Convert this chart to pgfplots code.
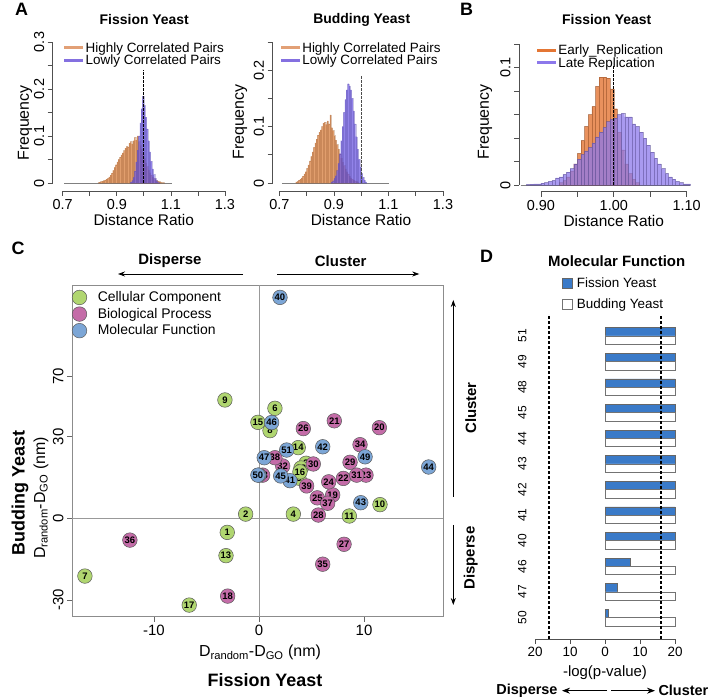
\documentclass[border=0pt]{standalone}
\usepackage{pgfplots}
\pgfplotsset{compat=1.18}
\usepackage{fontspec}
\setmainfont{Liberation Sans}
\usetikzlibrary{arrows.meta}
\newcommand\fs[1]{\fontsize{#1}{#1}\selectfont}
\definecolor{orA}{RGB}{215,125,60}
\definecolor{puA}{RGB}{110,90,225}
\definecolor{orL}{RGB}{226,160,118}
\definecolor{puL}{RGB}{132,112,224}
\definecolor{orB}{RGB}{228,118,52}
\definecolor{puB}{RGB}{140,120,235}
\definecolor{gC}{RGB}{176,214,112}
\definecolor{pC}{RGB}{196,108,168}
\definecolor{bC}{RGB}{124,166,214}
\definecolor{bD}{RGB}{58,122,200}
\definecolor{axg}{RGB}{80,80,80}

\pgfplotsset{
 rst/.style={scale only axis, anchor=south west, clip=false,
   axis x line*=bottom, axis y line*=left,
   axis line style={axg, line width=0.7bp},
   tick style={axg, line width=0.7bp},
   tick align=outside, major tick length=5bp,
   tick label style={font=\fs{14.5}},
   yticklabel style={rotate=90, anchor=south},
   legend style={draw=none, fill=none, font=\fs{13.5}, anchor=north west, inner sep=0pt, row sep=0bp, nodes={inner sep=0.8bp}},
   legend cell align=left,
   legend image code/.code={\draw[##1] (0bp,0bp) -- (19bp,0bp);},
 },
 hist/.style={ybar interval, fill=#1, fill opacity=0.75, draw=#1!70!black, draw opacity=0.3, line width=0.3bp, forget plot},
 histB/.style={ybar interval, fill=#1, fill opacity=0.8, draw=#1!60!black, draw opacity=0.5, line width=0.4bp, forget plot},
}

\begin{document}
\begin{tikzpicture}
\path[use as bounding box] (0,0) rectangle (710bp,700bp);

% ---------------- A left: fission
\begin{axis}[rst, at={(62.7bp,517bp)}, width=162.3bp, height=141bp,
 xmin=0.7, xmax=1.3, ymin=0, ymax=0.3,
 axis x line shift=8bp, axis y line shift=10bp,
 xtick={0.7,0.8,0.9,1.0,1.1,1.2,1.3}, xticklabels={0.7,,0.9,,1.1,,1.3},
 ytick={0,0.05,0.1,0.15,0.2,0.25,0.3}, yticklabels={0,,0.1,,0.2,,0.3},
 legend style={at={(0.0,1.005)}},
]
\addlegendimage{orL, line width=3bp}\addlegendentry{Highly Correlated Pairs}
\addlegendimage{puL, line width=3bp}\addlegendentry{Lowly Correlated Pairs}
\addplot[gray, line width=0.6bp, forget plot] coordinates {(0.705,0) (1.103,0)};
\addplot[hist=orA] table {
x y
0.830 0.001
0.835 0.002
0.840 0.003
0.845 0.004
0.850 0.005
0.855 0.006
0.860 0.008
0.865 0.010
0.870 0.013
0.875 0.017
0.880 0.021
0.885 0.027
0.890 0.033
0.895 0.039
0.900 0.045
0.905 0.050
0.910 0.055
0.915 0.060
0.920 0.064
0.925 0.069
0.930 0.074
0.935 0.078
0.940 0.077
0.945 0.085
0.950 0.088
0.955 0.083
0.960 0.090
0.965 0.097
0.970 0.091
0.975 0.100
0.980 0.088
0.985 0.080
0.990 0.072
0.995 0.062
1.000 0.052
1.005 0.043
1.010 0.035
1.015 0.028
1.020 0.022
1.025 0.017
1.030 0.013
1.035 0.010
1.040 0.007
1.045 0.005
1.050 0.004
1.055 0.003
1.060 0.002
1.065 0.001
1.070 0.001
1.075 0
};
\addplot[hist=puA] table {
x y
0.950 0.002
0.955 0.005
0.960 0.012
0.965 0.025
0.970 0.045
0.975 0.070
0.980 0.100
0.985 0.128
0.990 0.158
0.995 0.185
1.000 0.165
1.005 0.140
1.010 0.115
1.015 0.090
1.020 0.066
1.025 0.046
1.030 0.030
1.035 0.018
1.040 0.010
1.045 0.005
1.050 0.002
1.055 0
};
\addplot[black, line width=1bp, dash pattern=on 2.5bp off 1.5bp, forget plot] coordinates {(1,0) (1,0.24)};
\end{axis}

% ---------------- A right: budding
\begin{axis}[rst, at={(279.3bp,517bp)}, width=163.7bp, height=141bp,
 xmin=0.7, xmax=1.3, ymin=0, ymax=0.25,
 axis x line shift=8bp, axis y line shift=6.7bp,
 xtick={0.7,0.8,0.9,1.0,1.1,1.2,1.3}, xticklabels={0.7,,0.9,,1.1,,1.3},
 ytick={0,0.05,0.1,0.15,0.2,0.25}, yticklabels={0,,0.1,,0.2,},
 legend style={at={(0.0,1.005)}},
]
\addlegendimage{orL, line width=3bp}\addlegendentry{Highly Correlated Pairs}
\addlegendimage{puL, line width=3bp}\addlegendentry{Lowly Correlated Pairs}
\addplot[gray, line width=0.6bp, forget plot] coordinates {(0.709,0) (1.102,0)};
\addplot[hist=orA] table {
x y
0.760 0.002
0.765 0.003
0.770 0.005
0.775 0.007
0.780 0.009
0.785 0.012
0.790 0.016
0.795 0.020
0.800 0.026
0.805 0.032
0.810 0.039
0.815 0.047
0.820 0.055
0.825 0.063
0.830 0.071
0.835 0.078
0.840 0.085
0.845 0.090
0.850 0.094
0.855 0.100
0.860 0.106
0.865 0.108
0.870 0.104
0.875 0.110
0.880 0.105
0.885 0.121
0.890 0.098
0.895 0.093
0.900 0.084
0.905 0.076
0.910 0.068
0.915 0.060
0.920 0.052
0.925 0.044
0.930 0.037
0.935 0.031
0.940 0.025
0.945 0.020
0.950 0.016
0.955 0.012
0.960 0.009
0.965 0.007
0.970 0.005
0.975 0.004
0.980 0.003
0.985 0.002
0.990 0
};
\addplot[hist=puA] table {
x y
0.890 0.002
0.895 0.004
0.900 0.008
0.905 0.013
0.910 0.022
0.915 0.035
0.920 0.052
0.925 0.075
0.930 0.100
0.935 0.125
0.940 0.148
0.945 0.165
0.950 0.176
0.955 0.172
0.960 0.165
0.965 0.150
0.970 0.128
0.975 0.105
0.980 0.082
0.985 0.060
0.990 0.042
0.995 0.028
1.000 0.017
1.005 0.010
1.010 0.005
1.015 0.002
1.020 0
};
\addplot[black!70, line width=1bp, dash pattern=on 2.5bp off 1.5bp, forget plot] coordinates {(1,0) (1,0.19)};
\end{axis}

% ---------------- B
\begin{axis}[rst, at={(519.1bp,515bp)}, width=174.8bp, height=140.8bp,
 xmin=0.87, xmax=1.11, ymin=0, ymax=0.12,
 axis x line shift=6.7bp, x axis line style={draw=none},
 xtick={0.9,0.95,1.0,1.05,1.1}, xticklabels={0.90,,1.00,,1.10},
 ytick={0,0.02,0.04,0.06,0.08,0.1,0.12}, yticklabels={0,,,,,0.1,},
 legend style={at={(0.093,1.005)}},
]
\addlegendimage{orB, line width=3bp}\addlegendentry{Early\_Replication}
\addlegendimage{puB, line width=3bp}\addlegendentry{Late Replication}
\draw[axg, line width=0.7bp] ([yshift=-6.7bp]axis cs:0.9,0) -- ([yshift=-6.7bp]axis cs:1.1,0);
\addplot[gray, line width=0.6bp, forget plot] coordinates {(0.872,0) (1.105,0)};
\addplot[histB=orB] table {
x y
0.925 0.002
0.930 0.004
0.935 0.007
0.940 0.012
0.945 0.018
0.950 0.027
0.955 0.038
0.960 0.050
0.965 0.060
0.970 0.067
0.975 0.084
0.980 0.092
0.985 0.092
0.990 0.091
0.995 0.082
1.000 0.065
1.005 0.045
1.010 0.030
1.015 0.018
1.020 0.010
1.025 0.005
1.030 0.002
1.035 0
};
\addplot[histB=puB, fill opacity=0.75] table {
x y
0.880 0.0005
0.885 0.0008
0.890 0.001
0.895 0.001
0.900 0.0015
0.905 0.002
0.910 0.003
0.915 0.004
0.920 0.006
0.925 0.007
0.930 0.009
0.935 0.011
0.940 0.014
0.945 0.018
0.950 0.022
0.955 0.026
0.960 0.029
0.965 0.032
0.970 0.036
0.975 0.041
0.980 0.045
0.985 0.049
0.990 0.054
0.995 0.056
1.000 0.057
1.005 0.060
1.010 0.061
1.015 0.058
1.020 0.058
1.025 0.052
1.030 0.050
1.035 0.045
1.040 0.040
1.045 0.034
1.050 0.028
1.055 0.023
1.060 0.018
1.065 0.014
1.070 0.010
1.075 0.007
1.080 0.005
1.085 0.003
1.090 0.002
1.095 0.001
1.100 0.001
1.105 0
};
\addplot[black, line width=1bp, dash pattern=on 2.5bp off 1.5bp, forget plot] coordinates {(1,0) (1,0.102)};
\end{axis}

% ---------------- C
\begin{axis}[scale only axis, anchor=south west, at={(72bp,83.3bp)}, width=371bp, height=331.7bp,
 xmin=-17.8, xmax=17.52, ymin=-39.2, ymax=187.8,
 y coord trafo/.code={\pgfmathparse{(1-2*(#1<0))*ln(1+abs(#1)/30)}},
 axis line style={black!45, line width=0.8bp},
 tick style={black!60, line width=0.7bp}, tick align=outside, major tick length=5bp, tick pos=left,
 xtick={-10,0,10}, xticklabels={-10,0,10}, ytick={-30,0,30,70}, yticklabels={-30,0,30,70},
 tick label style={font=\fs{15}}, yticklabel style={rotate=90, anchor=south},
 clip=false,
 legend style={draw=none, fill=none, font=\fs{14}, at={(0.0,0.985)}, anchor=north west, inner sep=0pt, row sep=2bp, nodes={inner sep=1bp}},
 legend cell align=left,
 legend image code/.code={\draw[#1] plot coordinates {(9.5bp,0bp)};},
 nodes near coords, point meta=explicit symbolic, nodes near coords align=center,
 every node near coord/.append style={font=\fs{9.5}\bfseries, inner sep=0pt, text=black},
]
\addplot[black!40, line width=0.8bp, forget plot] coordinates {(0,-39.2) (0,187.8)};
\addplot[black!40, line width=0.8bp, forget plot] coordinates {(-17.8,0) (17.52,0)};
\addplot[only marks, mark=*, mark size=7.3bp, mark options={fill=gC, draw=black!65, line width=0.5bp}] table[x=x, y=y, meta=l] {
l x y
1 -3.02 -3.8
2 -1.27 1.1
3 4.48 17.9
4 3.27 1.1
5 3.8 12.2
6 1.52 46.4
7 -16.57 -19.0
8 1.05 33.2
9 -3.24 52.0
10 11.52 3.7
11 8.6 0.6
12 4.0 16.0
13 -3.14 -11.2
14 3.74 24.7
15 -0.1 37.8
16 3.9 14.5
17 -6.64 -32.7
};
\addlegendentry{\hspace*{10bp}Cellular Component}
\addplot[only marks, mark=*, mark size=7.3bp, mark options={fill=pC, draw=black!65, line width=0.5bp}] table[x=x, y=y, meta=l] {
l x y
18 -2.98 -28.1
19 7.02 6.6
20 11.46 34.8
21 7.17 38.7
22 8.03 12.1
23 10.19 13.3
24 6.64 10.9
25 5.55 5.7
26 4.22 34.3
27 8.1 -7.4
28 5.65 0.85
29 8.67 18.3
30 5.17 17.6
31 9.3 13.3
32 2.26 16.8
33 0.35 13.3
34 9.62 26.1
35 6.07 -14.3
36 -12.29 -6.1
37 6.54 4.1
38 1.52 20.2
39 4.54 9.5
};
\addlegendentry{\hspace*{10bp}Biological Process}
\addplot[only marks, mark=*, mark size=7.3bp, mark options={fill=bC, draw=black!65, line width=0.5bp}] table[x=x, y=y, meta=l] {
l x y
40 2.0 166
41 2.95 11.3
42 6.07 25.1
43 9.69 4.25
44 16.16 16.4
45 2.07 13.0
46 1.21 37.7
47 0.5 20.2
48 0.0 13.3
49 10.1 20.6
50 -0.1 13.3
51 2.64 23.6
};
\addlegendentry{\hspace*{10bp}Molecular Function}
\end{axis}

% ---------------- D
\begin{axis}[scale only axis, anchor=south west, at={(535bp,61bp)}, width=140bp, height=323bp,
 xmin=-20, xmax=20, ymin=0.164, ymax=12.78,
 axis x line*=bottom, axis y line*=left, y axis line style={draw=none},
 x axis line style={axg, line width=0.7bp},
 tick align=outside, major tick length=5bp, xtick style={axg, line width=0.7bp},
 xtick={-20,-10,0,10,20}, xticklabels={20,10,0,10,20},
 ytick={1,2,3,4,5,6,7,8,9,10,11,12}, yticklabels={50,47,46,40,41,42,43,44,45,48,49,51},
 ytick style={draw=none}, yticklabel style={rotate=90, anchor=south, font=\fs{12}},
 xticklabel style={font=\fs{13.5}},
 clip=false,
 legend style={draw=none, fill=none, font=\fs{13.5}, at={(0.193,1.122)}, anchor=north west, inner sep=0pt, row sep=8bp, nodes={inner sep=1bp}},
 legend cell align=left,
 legend image code/.code={\draw[#1] (0bp,-5bp) rectangle (10bp,5bp);},
]
\addplot[xbar, bar width=8.3bp, bar shift=0bp, fill=bD, draw=black!60, line width=0.5bp] table[x=f, y expr=\thisrow{p}+0.162] {
p f
12 20
11 20
10 20
9 20
8 20
7 20
6 20
5 20
4 20
3 7.2
2 3.4
1 1.0
};
\addlegendentry{\hspace*{3bp}Fission Yeast}
\addplot[xbar, bar width=8.3bp, bar shift=0bp, fill=white, draw=black!55, line width=0.6bp] table[x=b, y expr=\thisrow{p}-0.162] {
p b
12 20
11 20
10 20
9 20
8 20
7 20
6 20
5 20
4 20
3 20
2 20
1 20
};
\addlegendentry{\hspace*{3bp}Budding Yeast}
\addplot[black, line width=1.5bp, dash pattern=on 3bp off 2bp, forget plot] coordinates {(-16,0.164) (-16,12.78)};
\addplot[black, line width=1.5bp, dash pattern=on 3bp off 2bp, forget plot] coordinates {(16,0.164) (16,12.78)};
\end{axis}

% ---------------- texts
\begin{scope}[x=1bp, y=-1bp, yshift=700bp]
\node[font=\fs{18}\bfseries] at (21.7,9) {A};
\node[font=\fs{18}\bfseries] at (466.7,9) {B};
\node[font=\fs{18}\bfseries] at (18,248) {C};
\node[font=\fs{18}\bfseries] at (486.7,256.7) {D};
\node[font=\fs{14}\bfseries] at (144.3,20) {Fission Yeast};
\node[font=\fs{14}\bfseries] at (361.7,20) {Budding Yeast};
\node[font=\fs{14}\bfseries] at (606.7,20) {Fission Yeast};
\node[font=\fs{16}, rotate=90] at (25,123) {Frequency};
\node[font=\fs{16}, rotate=90] at (240,122) {Frequency};
\node[font=\fs{16}, rotate=90] at (485,122) {Frequency};
\node[font=\fs{15.5}] at (143.8,220) {Distance Ratio};
\node[font=\fs{15.5}] at (361,220) {Distance Ratio};
\node[font=\fs{15.5}] at (613.8,221) {Distance Ratio};
% C
\node[font=\fs{15}\bfseries] at (170,261) {Disperse};
\node[font=\fs{15}\bfseries] at (340.7,261) {Cluster};
\draw[line width=0.8bp, -{Stealth[length=7bp,width=5bp]}] (243,274) -- (118,274);
\draw[line width=0.8bp, -{Stealth[length=7bp,width=5bp]}] (277.3,274) -- (419.3,274);
\node[font=\fs{15}\bfseries, rotate=90] at (470.7,408) {Cluster};
\node[font=\fs{15}\bfseries, rotate=90] at (470.7,558) {Disperse};
\draw[line width=0.8bp, -{Stealth[length=7bp,width=5bp]}] (453.3,496.7) -- (453.3,300);
\draw[line width=0.8bp, -{Stealth[length=7bp,width=5bp]}] (453.3,525) -- (453.3,605);
\node[font=\fs{18}\bfseries, rotate=90] at (20,493) {Budding Yeast};
\node[font=\fs{16}, rotate=90] at (41,498) {D\textsubscript{random}-D\textsubscript{GO} (nm)};
\node[font=\fs{16}] at (260,652.7) {D\textsubscript{random}-D\textsubscript{GO} (nm)};
\node[font=\fs{18}\bfseries] at (265,680) {Fission Yeast};
% D
\node[font=\fs{15}\bfseries] at (616.7,261) {Molecular Function};
\node[font=\fs{15}] at (605,672.7) {-log(p-value)};
\node[font=\fs{14.5}\bfseries, anchor=east] at (561,690.7) {Disperse};
\node[font=\fs{14.5}\bfseries, anchor=west] at (655,690.7) {Cluster};
\draw[line width=0.8bp, -{Stealth[length=8bp,width=6bp]}] (607,690.7) -- (562,690.7);
\draw[line width=0.8bp, -{Stealth[length=8bp,width=6bp]}] (611,690.7) -- (655,690.7);
\end{scope}
\end{tikzpicture}
\end{document}
